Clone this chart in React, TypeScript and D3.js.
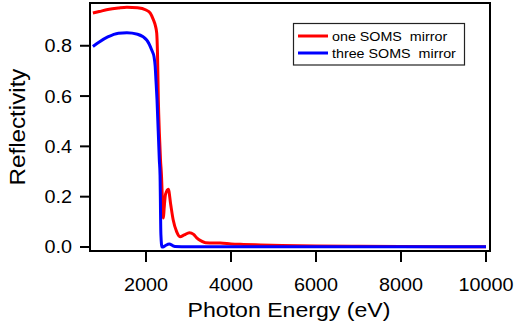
import React from "react";
import * as d3 from "d3";

// photon energy (eV) / reflectivity
const oneEnergy = [
  750, 900, 1100, 1350, 1550, 1800, 2000, 2100, 2170, 2220, 2252, 2270, 2290,
  2315, 2340, 2365, 2385, 2400, 2410, 2425, 2460, 2525, 2580, 2640, 2720, 2800,
  2900, 3020, 3120, 3200, 3300, 3400, 3600, 3750, 4000, 4300, 4700, 5200, 6000,
  7000, 8000, 10000,
];
const oneRefl = [
  0.93, 0.936, 0.944, 0.95, 0.953, 0.951, 0.942, 0.93, 0.905, 0.88, 0.85,
  0.77, 0.585, 0.45, 0.35, 0.28, 0.19, 0.13, 0.115, 0.15, 0.21, 0.23, 0.17,
  0.107, 0.061, 0.041, 0.048, 0.057, 0.05, 0.035, 0.024, 0.017, 0.016, 0.016,
  0.012, 0.01, 0.008, 0.006, 0.004, 0.003, 0.002, 0.001,
];

const threeEnergy = [
  750, 900, 1100, 1350, 1550, 1800, 2016, 2134, 2190, 2215, 2235, 2259, 2313,
  2330, 2350, 2376, 2400, 2450, 2550, 2620, 2680, 3000, 5000, 10000,
];
const threeRefl = [
  0.797, 0.815, 0.835, 0.85, 0.852, 0.846, 0.823, 0.783, 0.755, 0.72, 0.66,
  0.585, 0.346, 0.286, 0.05, 0.0, 0.0, 0.005, 0.012, 0.006, 0.002, 0.001,
  0.001, 0.001,
];

const xTicks = [2000, 4000, 6000, 8000, 10000];
const yTicks = [0, 0.2, 0.4, 0.6, 0.8];
const seriesNames = ["one SOMS  mirror", "three SOMS  mirror"];
const seriesColors = ["#ff0000", "#0000ff"];

const W = 516;
const H = 323;
const left = 90;
const right = 490;
const top = 3;
const bottom = 251;
const stretch = "scale(1.1,1)";
const font = "'Liberation Sans', Arial, sans-serif";

export default function App() {
  const x = d3.scaleLinear().domain([682, 10094]).range([left, right]);
  const y = d3.scaleLinear().domain([-0.016, 0.97]).range([bottom, top]);

  const line = d3
    .line<[number, number]>()
    .x((d) => x(d[0]))
    .y((d) => y(d[1]))
    .curve(d3.curveMonotoneX);

  const series = [
    d3.zip(oneEnergy, oneRefl) as [number, number][],
    d3.zip(threeEnergy, threeRefl) as [number, number][],
  ];

  return (
    <svg
      width={W}
      height={H}
      style={{ position: "absolute", left: 0, top: 0, background: "#fff" }}
      fontFamily={font}
    >
      <rect x={0} y={0} width={W} height={H} fill="#fff" />

      {series.map((s, i) => (
        <path
          key={i}
          d={line(s) ?? ""}
          fill="none"
          stroke={seriesColors[i]}
          strokeWidth={3}
          strokeLinejoin="round"
        />
      ))}

      <rect
        x={left}
        y={top}
        width={right - left}
        height={bottom - top}
        fill="none"
        stroke="#000"
        strokeWidth={2}
      />

      {xTicks.map((t) => (
        <g key={t}>
          <line x1={x(t)} x2={x(t)} y1={bottom} y2={bottom + 11} stroke="#000" strokeWidth={2} />
          <text
            transform={`translate(${x(t)},291) ${stretch}`}
            textAnchor="middle"
            fontSize={18}
            fill="#000"
          >
            {t}
          </text>
        </g>
      ))}

      {yTicks.map((t) => (
        <g key={t}>
          <line x1={left - 10} x2={left} y1={y(t)} y2={y(t)} stroke="#000" strokeWidth={2} />
          <text
            transform={`translate(72,${y(t) + 6.5}) ${stretch}`}
            textAnchor="end"
            fontSize={18}
            fill="#000"
          >
            {t.toFixed(1)}
          </text>
        </g>
      ))}

      <text
        transform={`translate(${(left + right) / 2 - 1},316.5) ${stretch}`}
        textAnchor="middle"
        fontSize={21}
        fill="#000"
      >
        Photon Energy (eV)
      </text>
      <text
        transform={`translate(25,${(top + bottom) / 2}) rotate(-90) ${stretch}`}
        textAnchor="middle"
        fontSize={22}
        fill="#000"
      >
        Reflectivity
      </text>

      <g>
        <rect x={293.5} y={23.5} width={171} height={41.5} fill="#fff" stroke="#222" strokeWidth={1.2} />
        {seriesNames.map((name, i) => (
          <g key={name}>
            <line
              x1={298}
              x2={328}
              y1={36 + i * 17}
              y2={36 + i * 17}
              stroke={seriesColors[i]}
              strokeWidth={3}
            />
            <text
              transform={`translate(332,${41 + i * 16.8}) ${stretch}`}
              fontSize={13}
              fill="#000"
              style={{ whiteSpace: "pre" }}
            >
              {name}
            </text>
          </g>
        ))}
      </g>
    </svg>
  );
}
